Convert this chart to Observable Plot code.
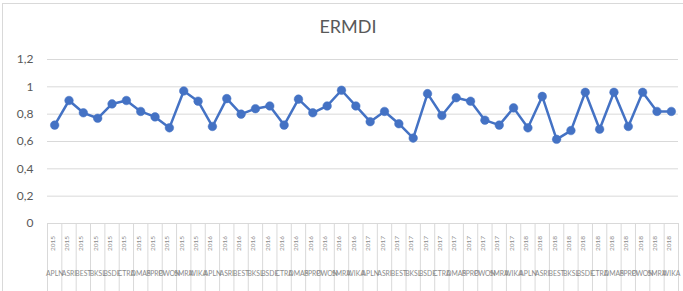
<!DOCTYPE html>
<html>
<head>
<meta charset="utf-8">
<script src="https://cdn.jsdelivr.net/npm/d3@7"></script>
<script src="https://cdn.jsdelivr.net/npm/@observablehq/plot@0.6"></script>
<style>
  html, body { margin: 0; padding: 0; background: #fff; }
  #wrap { position: relative; width: 683px; height: 291px; overflow: hidden; font-family: Lato, "Open Sans", sans-serif; }
  #frame { position: absolute; left: 2px; top: 3px; width: 690px; height: 300px; border: 1px solid #d9d9d9; box-sizing: border-box; }
  #title { position: absolute; left: 0; top: 15px; width: 696px; text-align: center; font-size: 18px; color: #595959; line-height: 22px; }
  #chart { position: absolute; left: 0; top: 0; }
</style>
</head>
<body>
<div id="wrap">
  <div id="frame"></div>
  <div id="title">ERMDI</div>
  <div id="chart"></div>
</div>
<script>
const years = ["2015", "2016", "2017", "2018"];
const companies = ["APLN", "ASRI", "BEST", "BKSL", "BSDE", "CTRA", "DMAS", "PPRO", "PWON", "SMRA", "WIKA"];
const ermdi2015 = [0.72, 0.90, 0.81, 0.77, 0.875, 0.90, 0.82, 0.78, 0.70, 0.97, 0.895];
const ermdi2016 = [0.71, 0.914, 0.80, 0.84, 0.86, 0.72, 0.91, 0.81, 0.86, 0.975, 0.86];
const ermdi2017 = [0.745, 0.82, 0.73, 0.625, 0.95, 0.79, 0.92, 0.895, 0.756, 0.72, 0.846];
const ermdi2018 = [0.70, 0.93, 0.616, 0.68, 0.96, 0.69, 0.96, 0.71, 0.96, 0.82, 0.82];
const yTicks = [0, 0.2, 0.4, 0.6, 0.8, 1, 1.2];
const yTickLabels = ["0", "0,2", "0,4", "0,6", "0,8", "1", "1,2"];

const series = [ermdi2015, ermdi2016, ermdi2017, ermdi2018];
const rows = [];
years.forEach((yr, i) => companies.forEach((c, j) => rows.push({idx: rows.length, year: yr, company: c, value: series[i][j]})));
const n = rows.length;
const edges = d3.range(n + 1).map(i => i - 0.5);

const W = 683, H = 291, ML = 47, MR = 5, MT = 59, MB = 68;
const frameH = H - MT - MB;
const grey = "#d9d9d9";
const blue = "#4472c4";

const chart = Plot.plot({
  width: W, height: H,
  marginLeft: ML, marginRight: MR, marginTop: MT, marginBottom: MB,
  style: {fontFamily: "Lato, 'Open Sans', sans-serif", background: "transparent", overflow: "visible"},
  x: {type: "linear", domain: [-0.5, n - 0.5], axis: null},
  y: {domain: [0, 1.2], axis: null},
  marks: [
    Plot.ruleY(yTicks, {stroke: grey, strokeWidth: 1}),
    Plot.ruleX(edges, {x: d => d, insetTop: frameH, insetBottom: -MB, stroke: grey, strokeWidth: 1}),
    Plot.text(yTicks, {x: -0.5, y: d => d, text: (d, i) => yTickLabels[i], dx: -14, textAnchor: "end", fontSize: 12, fill: "#595959"}),
    Plot.text(rows, {x: "idx", frameAnchor: "bottom", text: "year", rotate: -90, dy: 20, fontSize: 6.5, fill: "#8a8a8a"}),
    Plot.text(rows, {x: "idx", frameAnchor: "bottom", text: "company", dy: 52, fontSize: 6.8, fill: "#8a8a8a"}),
    Plot.line(rows, {x: "idx", y: "value", stroke: blue, strokeWidth: 2.5, curve: "linear"}),
    Plot.dot(rows, {x: "idx", y: "value", r: 4.3, fill: blue, stroke: blue, strokeWidth: 0.5})
  ]
});
document.getElementById("chart").appendChild(chart);
</script>
</body>
</html>
